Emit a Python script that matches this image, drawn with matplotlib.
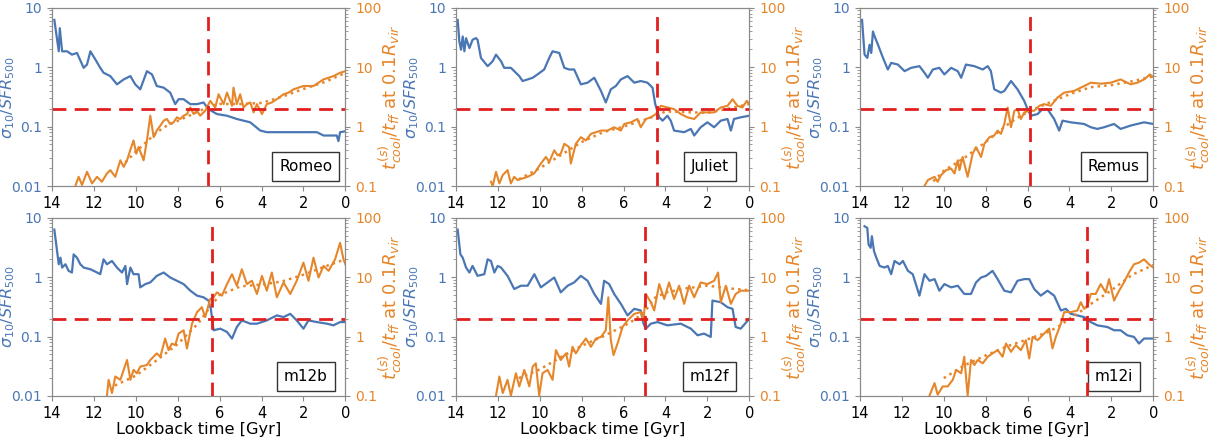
import numpy as np
import matplotlib.pyplot as plt
from matplotlib.ticker import FixedLocator, FixedFormatter, LogLocator, NullFormatter

BLUE = '#4a77b4'
ORANGE = '#e6862a'
RED = '#e0201f'
SPINE = '#8a8a8a'

# ---- Romeo ----
romeo_t_ratio = [13.89, 13.68, 13.63, 13.52, 13.28, 13.05, 12.81, 12.49, 12.33, 12.17, 11.93, 11.70,
                 11.54, 11.22, 10.90, 10.58, 10.26, 10.03, 9.79, 9.47, 9.23, 9.00, 8.67, 8.36, 8.12,
                 7.96, 7.72, 7.40, 7.08, 6.77, 6.53, 6.13, 5.65, 5.18, 4.86, 4.54, 4.06, 3.75, 2.95,
                 2.16, 1.36, 1.04, 0.41, 0.33, 0.25, 0.0]
romeo_ratio_dex = [0.795, 0.267, 0.656, 0.267, 0.267, 0.211, 0.239, -0.011, 0.045, 0.267, 0.128, -0.011,
                   -0.094, -0.150, -0.289, -0.206, -0.150, -0.289, -0.372, -0.067, -0.122, -0.317, -0.345,
                   -0.428, -0.622, -0.539, -0.539, -0.622, -0.622, -0.594, -0.706, -0.789, -0.817, -0.872,
                   -0.900, -0.928, -1.067, -1.094, -1.094, -1.094, -1.094, -1.150, -1.150, -1.244, -1.094,
                   -1.078]
romeo_t_tcool = [12.89, 12.73, 12.57, 12.33, 12.09, 11.85, 11.62, 11.38, 11.22, 10.98, 10.74, 10.58,
                 10.42, 10.27, 10.11, 9.98, 9.87, 9.63, 9.47, 9.31, 9.15, 9.00, 8.83, 8.67, 8.52, 8.36,
                 8.20, 8.04, 7.88, 7.72, 7.56, 7.40, 7.24, 7.08, 6.93, 6.69, 6.45, 6.21, 6.05, 5.81,
                 5.65, 5.41, 5.34, 5.18, 5.02, 4.86, 4.70, 4.54, 4.38, 4.22, 3.98, 3.75, 3.51, 3.27,
                 2.95, 2.71, 2.47, 2.00, 1.52, 1.28, 1.04, 0.57, 0.25, 0.0]
romeo_tcool_dex = [-1.0, -0.845, -0.983, -0.761, -0.956, -0.845, -0.928, -0.789, -0.733, -0.845, -0.567,
                   -0.678, -0.567, -0.400, -0.233, -0.456, -0.345, -0.567, -0.233, 0.183, -0.178, -0.067,
                   0.017, 0.100, 0.128, 0.044, 0.072, 0.156, 0.128, 0.183, 0.211, 0.322, 0.211, 0.267,
                   0.183, 0.267, 0.433, 0.322, 0.544, 0.378, 0.572, 0.350, 0.656, 0.378, 0.544, 0.322,
                   0.378, 0.406, 0.239, 0.378, 0.211, 0.378, 0.406, 0.461, 0.544, 0.572, 0.628, 0.683,
                   0.683, 0.739, 0.794, 0.850, 0.906, 0.933]
romeo_t_smooth = [10.5, 10.0, 9.5, 9.0, 8.5, 8.0, 7.5, 7.0, 6.5, 6.0, 5.0, 4.0, 3.0, 2.0, 1.0, 0.0]
romeo_smooth = [0.25, 0.38, 0.55, 0.8, 1.05, 1.25, 1.5, 1.8, 2.2, 2.4, 2.4, 2.5, 3.2, 4.3, 5.6, 8.0]
romeo_transition = 6.55

# ---- Juliet ----
juliet_t_ratio = [13.92, 13.84, 13.76, 13.68, 13.60, 13.52, 13.36, 13.21, 13.05, 12.97, 12.81, 12.49,
                  12.25, 12.09, 11.85, 11.70, 11.38, 11.22, 10.98, 10.82, 10.58, 10.34, 10.11, 9.79,
                  9.55, 9.39, 9.07, 8.83, 8.60, 8.36, 8.04, 7.72, 7.40, 7.08, 6.85, 6.61, 6.37, 6.13,
                  5.81, 5.49, 5.18, 4.86, 4.62, 4.49, 4.30, 4.14, 3.91, 3.75, 3.59, 3.11, 2.79, 2.63,
                  2.32, 2.00, 1.68, 1.36, 1.04, 0.88, 0.73, 0.41, 0.0]
juliet_ratio_dex = [0.795, 0.433, 0.294, 0.517, 0.267, 0.489, 0.322, 0.461, 0.489, 0.461, 0.156, 0.017,
                    0.100, 0.211, 0.100, -0.011, -0.011, -0.067, -0.150, -0.233, -0.206, -0.178, -0.122,
                    -0.039, 0.156, 0.267, 0.239, -0.011, -0.039, -0.039, -0.289, -0.261, -0.178, -0.400,
                    -0.594, -0.372, -0.317, -0.206, -0.150, -0.261, -0.233, -0.261, -0.345, -0.622,
                    -0.844, -0.900, -0.817, -0.900, -1.067, -1.094, -1.039, -1.150, -1.011, -0.928,
                    -1.011, -0.900, -0.872, -1.067, -0.872, -0.844, -0.817]
juliet_t_tcool = [12.33, 12.25, 12.09, 11.93, 11.77, 11.54, 11.38, 11.22, 11.06, 10.82, 10.58, 10.27,
                  10.11, 9.95, 9.71, 9.55, 9.31, 9.15, 9.00, 8.83, 8.60, 8.52, 8.28, 8.04, 7.80, 7.56,
                  7.32, 7.08, 6.77, 6.45, 6.13, 5.97, 5.65, 5.34, 5.18, 4.94, 4.70, 4.46, 4.22, 3.91,
                  3.59, 3.27, 2.95, 2.63, 2.32, 2.00, 1.68, 1.36, 1.04, 0.80, 0.57, 0.33, 0.12, 0.0]
juliet_tcool_dex = [-0.928, -1.0, -0.761, -0.956, -0.817, -0.733, -0.956, -0.845, -0.900, -0.872, -0.845,
                    -0.789, -0.706, -0.622, -0.511, -0.594, -0.400, -0.483, -0.456, -0.289, -0.345, -0.622,
                    -0.289, -0.178, -0.233, -0.122, -0.094, -0.067, -0.067, -0.011, -0.067, 0.044, 0.072,
                    0.128, -0.011, 0.128, 0.156, 0.211, 0.350, 0.322, 0.294, 0.211, 0.156, 0.128, 0.239,
                    0.239, 0.239, 0.322, 0.350, 0.461, 0.350, 0.322, 0.433, 0.378]
juliet_t_smooth = [11.0, 10.0, 9.0, 8.0, 7.0, 6.0, 5.0, 4.5, 4.0, 3.0, 2.0, 1.0, 0.0]
juliet_smooth = [0.13, 0.2, 0.33, 0.55, 0.8, 1.0, 1.3, 1.5, 1.8, 1.75, 1.7, 2.0, 2.4]
juliet_transition = 4.4

# ---- Remus ----
remus_t_ratio = [13.90, 13.78, 13.65, 13.54, 13.46, 13.38, 13.30, 13.14, 12.90, 12.67, 12.51, 12.19,
                 11.87, 11.56, 11.16, 10.92, 10.76, 10.52, 10.21, 9.97, 9.65, 9.33, 9.17, 8.94, 8.54,
                 8.14, 7.90, 7.75, 7.59, 7.27, 7.11, 6.79, 6.48, 6.16, 6.00, 5.84, 5.52, 5.29, 5.05,
                 4.73, 4.49, 4.33, 3.94, 3.30, 2.98, 2.67, 2.35, 1.87, 1.56, 1.08, 0.44, 0.0]
remus_ratio_dex = [0.795, 0.211, 0.156, 0.378, 0.239, 0.600, 0.517, 0.378, 0.156, -0.039, 0.072, 0.044,
                   -0.067, -0.011, 0.017, -0.094, -0.178, -0.039, -0.011, -0.122, -0.011, -0.067, -0.178,
                   0.044, 0.017, -0.039, 0.017, -0.067, -0.372, -0.428, -0.400, -0.233, -0.372, -0.567,
                   -0.706, -0.817, -0.789, -0.706, -0.706, -0.872, -1.067, -0.900, -0.928, -0.956, -1.011,
                   -1.039, -1.011, -0.956, -1.039, -0.983, -0.928, -0.956]
remus_t_tcool = [10.92, 10.76, 10.60, 10.44, 10.29, 10.13, 9.89, 9.65, 9.49, 9.33, 9.25, 9.10, 8.86,
                 8.62, 8.46, 8.22, 8.06, 7.82, 7.59, 7.43, 7.27, 7.11, 6.95, 6.79, 6.63, 6.48, 6.32,
                 6.16, 5.92, 5.68, 5.44, 5.21, 4.89, 4.57, 4.25, 3.78, 3.30, 2.98, 2.51, 2.03, 1.56,
                 1.08, 0.76, 0.44, 0.16, 0.0]
remus_tcool_dex = [-1.0, -0.900, -0.872, -0.845, -0.928, -0.817, -0.733, -0.706, -0.789, -0.567, -0.733,
                   -0.511, -0.845, -0.456, -0.345, -0.511, -0.289, -0.178, -0.150, -0.067, -0.122, 0.044,
                   0.322, -0.011, 0.267, 0.294, 0.128, 0.239, 0.267, 0.267, 0.350, 0.378, 0.350, 0.489,
                   0.572, 0.600, 0.683, 0.739, 0.722, 0.739, 0.794, 0.711, 0.739, 0.794, 0.878, 0.833]
remus_t_smooth = [10.5, 10.0, 9.0, 8.0, 7.0, 6.5, 6.0, 5.5, 5.0, 4.0, 3.0, 2.0, 1.0, 0.0]
remus_smooth = [0.12, 0.18, 0.3, 0.55, 1.05, 1.4, 1.75, 2.1, 2.5, 3.5, 4.6, 5.0, 5.8, 7.0]
remus_transition = 5.9

# ---- m12b ----
m12b_t_ratio = [13.89, 13.76, 13.68, 13.60, 13.52, 13.36, 13.21, 13.05, 12.97, 12.81, 12.65, 12.49,
                12.17, 11.85, 11.70, 11.54, 11.38, 11.14, 10.90, 10.66, 10.50, 10.42, 10.26, 10.11,
                9.87, 9.79, 9.55, 9.31, 9.00, 8.67, 8.36, 8.04, 7.72, 7.40, 7.08, 6.77, 6.53, 6.42,
                6.29, 5.97, 5.65, 5.41, 5.18, 4.94, 4.54, 4.22, 3.75, 3.27, 2.95, 2.63, 2.32, 2.00,
                1.76, 1.36, 0.88, 0.57, 0.25, 0.0]
m12b_ratio_dex = [0.800, 0.439, 0.217, 0.328, 0.161, 0.217, 0.106, 0.078, 0.383, 0.328, 0.217, 0.161,
                  0.133, 0.078, 0.050, 0.300, 0.217, 0.272, 0.161, 0.078, 0.189, -0.117, 0.161, 0.050,
                  0.050, -0.172, -0.117, -0.089, 0.022, 0.078, -0.006, -0.061, -0.117, -0.228, -0.311,
                  -0.339, -0.394, -0.533, -0.894, -0.867, -0.922, -1.033, -0.839, -0.728, -0.783, -0.783,
                  -0.728, -0.644, -0.672, -0.617, -0.728, -0.867, -0.728, -0.756, -0.783, -0.811, -0.756,
                  -0.756]
m12b_t_tcool = [11.38, 11.30, 11.14, 10.98, 10.74, 10.58, 10.42, 10.26, 10.11, 9.95, 9.79, 9.47, 9.31,
                9.00, 8.83, 8.60, 8.44, 8.28, 8.12, 7.96, 7.72, 7.56, 7.32, 7.08, 6.85, 6.69, 6.45,
                6.29, 6.13, 5.89, 5.65, 5.41, 5.18, 4.94, 4.70, 4.46, 4.22, 3.98, 3.75, 3.51, 3.27,
                2.95, 2.63, 2.32, 2.00, 1.76, 1.52, 1.28, 1.04, 0.80, 0.49, 0.25, 0.09, 0.0]
m12b_tcool_dex = [-0.994, -0.728, -0.950, -0.672, -0.728, -0.561, -0.394, -0.728, -0.561, -0.617, -0.506,
                  -0.478, -0.394, -0.283, -0.339, -0.033, -0.228, -0.117, -0.144, 0.050, 0.106, -0.200,
                  0.217, 0.411, 0.494, 0.328, 0.633, 0.661, 0.744, 0.689, 0.883, 1.050, 0.856, 1.133,
                  0.883, 0.939, 0.717, 1.022, 0.772, 1.078, 0.661, 0.911, 0.717, 0.939, 1.244, 0.939,
                  1.328, 0.994, 1.189, 1.106, 1.300, 1.578, 1.300, 1.217]
m12b_t_smooth = [11.0, 10.0, 9.0, 8.0, 7.0, 6.5, 6.0, 5.0, 4.0, 3.0, 2.0, 1.0, 0.0]
m12b_smooth = [0.15, 0.22, 0.4, 0.75, 1.7, 3.0, 5.0, 7.0, 7.5, 8.5, 11.0, 15.0, 20.0]
m12b_transition = 6.35

# ---- m12f ----
m12f_t_ratio = [13.92, 13.79, 13.68, 13.52, 13.36, 13.21, 12.97, 12.65, 12.49, 12.33, 12.17, 12.01,
                11.85, 11.54, 11.22, 10.90, 10.58, 10.26, 9.95, 9.63, 9.31, 9.00, 8.67, 8.36, 8.04,
                7.72, 7.40, 7.08, 6.93, 6.69, 6.45, 6.13, 5.81, 5.49, 5.18, 5.05, 4.94, 4.70, 4.38,
                3.91, 3.27, 2.79, 2.47, 2.16, 1.84, 1.76, 1.36, 1.04, 0.80, 0.65, 0.41, 0.0]
m12f_ratio_dex = [0.800, 0.383, 0.328, 0.161, 0.078, 0.189, 0.022, 0.050, 0.300, 0.272, 0.078, 0.189,
                  0.161, 0.022, -0.200, -0.144, -0.144, 0.050, -0.172, -0.089, -0.006, -0.256, -0.144,
                  -0.089, 0.022, -0.061, -0.283, -0.450, -0.061, -0.117, -0.283, -0.450, -0.644, -0.533,
                  -0.561, -0.783, -0.867, -0.783, -0.756, -0.811, -0.783, -0.867, -0.978, -0.950, -1.006,
                  -0.394, -0.422, -0.506, -0.533, -0.839, -0.867, -0.700]
m12f_t_tcool = [12.09, 11.93, 11.77, 11.54, 11.38, 11.14, 10.98, 10.74, 10.50, 10.34, 10.19, 10.03,
                9.87, 9.63, 9.39, 9.23, 9.00, 8.75, 8.60, 8.44, 8.28, 8.04, 7.80, 7.56, 7.32, 7.08,
                6.85, 6.73, 6.61, 6.48, 6.29, 6.05, 5.81, 5.49, 5.18, 5.05, 4.94, 4.70, 4.54, 4.30,
                4.06, 3.83, 3.59, 3.35, 3.11, 2.87, 2.63, 2.32, 2.00, 1.68, 1.49, 1.36, 1.12, 0.88,
                0.65, 0.41, 0.0]
m12f_tcool_dex = [-0.994, -0.672, -0.950, -0.728, -0.994, -0.617, -0.839, -0.561, -0.839, -0.506, -0.450,
                  -0.994, -0.617, -0.561, -0.728, -0.228, -0.394, -0.283, -0.506, -0.172, -0.283, -0.144,
                  -0.033, -0.172, -0.033, -0.006, 0.106, 0.661, -0.061, -0.311, -0.117, 0.161, 0.272,
                  0.383, 0.411, 0.272, 0.717, 0.578, 0.439, 0.883, 0.633, 0.911, 0.633, 0.856, 0.550,
                  0.856, 0.661, 0.911, 0.883, 0.939, 1.078, 0.578, 0.856, 0.550, 0.717, 0.772, 0.772]
m12f_t_smooth = [11.0, 10.0, 9.0, 8.0, 7.0, 6.0, 5.5, 5.0, 4.5, 4.0, 3.0, 2.0, 1.0, 0.0]
m12f_smooth = [0.2, 0.28, 0.45, 0.7, 1.0, 1.5, 1.9, 2.6, 4.5, 5.5, 6.5, 7.2, 6.5, 6.0]
m12f_transition = 5.0

# ---- m12i ----
m12i_t_ratio = [13.78, 13.65, 13.59, 13.49, 13.43, 13.33, 13.22, 13.06, 12.83, 12.67, 12.51, 12.35,
                12.11, 11.95, 11.71, 11.48, 11.16, 10.92, 10.68, 10.44, 10.21, 9.97, 9.65, 9.33, 9.02,
                8.70, 8.46, 8.22, 7.98, 7.67, 7.43, 7.11, 6.79, 6.48, 6.16, 5.92, 5.68, 5.37, 5.05,
                4.73, 4.41, 4.17, 3.94, 3.62, 3.30, 2.98, 2.67, 2.19, 1.87, 1.56, 1.24, 0.92, 0.68,
                0.44, 0.0]
m12i_ratio_dex = [0.856, 0.828, 0.550, 0.494, 0.689, 0.439, 0.328, 0.189, 0.161, 0.189, 0.050, 0.272,
                  0.217, 0.272, 0.106, 0.050, -0.311, 0.050, -0.061, -0.033, -0.228, -0.117, -0.172,
                  -0.144, -0.283, -0.283, -0.089, -0.006, 0.022, 0.106, -0.033, -0.228, -0.256, -0.061,
                  -0.033, -0.033, -0.200, -0.311, -0.228, -0.311, -0.561, -0.533, -0.617, -0.644, -0.672,
                  -0.756, -0.811, -0.839, -0.894, -0.894, -0.978, -1.006, -1.117, -1.033, -1.033]
m12i_t_tcool = [10.68, 10.44, 10.29, 10.05, 9.81, 9.57, 9.41, 9.17, 9.02, 8.86, 8.70, 8.54, 8.38, 8.14,
                7.90, 7.67, 7.43, 7.19, 7.03, 6.79, 6.56, 6.32, 6.08, 5.92, 5.76, 5.52, 5.21, 4.97,
                4.81, 4.65, 4.41, 4.25, 3.94, 3.62, 3.46, 3.30, 3.14, 2.98, 2.75, 2.51, 2.27, 2.11,
                1.87, 1.63, 1.40, 1.16, 0.92, 0.68, 0.44, 0.21, 0.0]
m12i_tcool_dex = [-0.994, -0.783, -0.978, -0.839, -0.839, -0.728, -0.561, -0.617, -0.339, -0.994, -0.394,
                  -0.478, -0.394, -0.450, -0.339, -0.283, -0.228, -0.339, -0.117, -0.256, -0.144, -0.228,
                  -0.061, -0.367, -0.006, -0.061, 0.050, 0.133, -0.200, -0.006, 0.217, 0.411, 0.411,
                  0.439, 0.578, 0.467, 0.522, 0.717, 0.717, 0.883, 0.744, 0.967, 0.606, 0.772, 0.911,
                  1.078, 1.217, 1.244, 1.300, 1.217, 1.161]
m12i_t_smooth = [10.0, 9.0, 8.0, 7.0, 6.0, 5.0, 4.5, 4.0, 3.5, 3.0, 2.0, 1.0, 0.0]
m12i_smooth = [0.2, 0.33, 0.48, 0.68, 0.9, 1.2, 1.5, 2.0, 2.6, 3.5, 6.0, 11.0, 16.0]
m12i_transition = 3.15

panels = [
    ('Romeo', romeo_t_ratio, romeo_ratio_dex, romeo_t_tcool, romeo_tcool_dex,
     romeo_t_smooth, romeo_smooth, romeo_transition),
    ('Juliet', juliet_t_ratio, juliet_ratio_dex, juliet_t_tcool, juliet_tcool_dex,
     juliet_t_smooth, juliet_smooth, juliet_transition),
    ('Remus', remus_t_ratio, remus_ratio_dex, remus_t_tcool, remus_tcool_dex,
     remus_t_smooth, remus_smooth, remus_transition),
    ('m12b', m12b_t_ratio, m12b_ratio_dex, m12b_t_tcool, m12b_tcool_dex,
     m12b_t_smooth, m12b_smooth, m12b_transition),
    ('m12f', m12f_t_ratio, m12f_ratio_dex, m12f_t_tcool, m12f_tcool_dex,
     m12f_t_smooth, m12f_smooth, m12f_transition),
    ('m12i', m12i_t_ratio, m12i_ratio_dex, m12i_t_tcool, m12i_tcool_dex,
     m12i_t_smooth, m12i_smooth, m12i_transition),
]

RATIO_CUT = 0.2

fig = plt.figure(figsize=(12.16, 4.38), dpi=100)
lefts = [0.0428, 0.375, 0.7072]
bottoms = [0.5753, 0.0959]
w, h = 0.2412, 0.407

for i, (name, t1, r_dex, t2, c_dex, ts, cs, t_tr) in enumerate(panels):
    row, col = divmod(i, 3)
    ax = fig.add_axes([lefts[col], bottoms[row], w, h])
    ax2 = ax.twinx()

    ax.plot(t1, 10 ** np.array(r_dex), color=BLUE, lw=1.6)
    ax2.plot(t2, 10 ** np.array(c_dex), color=ORANGE, lw=1.5)
    ax2.plot(ts, cs, color=ORANGE, lw=1.8, ls=':')

    # transition time and sigma/SFR threshold (0.2 on the left axis = 2 on the right)
    ax2.axvline(t_tr, color=RED, lw=2, ls=(0, (5, 3)))
    ax2.axhline(RATIO_CUT * 10, color=RED, lw=2, ls=(0, (5, 3)))

    ax.set_xlim(14, 0)
    ax.set_xticks([14, 12, 10, 8, 6, 4, 2, 0])
    ax.set_yscale('log')
    ax.set_ylim(0.01, 10)
    ax2.set_yscale('log')
    ax2.set_ylim(0.1, 100)

    ax.yaxis.set_major_locator(FixedLocator([0.01, 0.1, 1, 10]))
    ax.yaxis.set_major_formatter(FixedFormatter(['0.01', '0.1', '1', '10']))
    ax2.yaxis.set_major_locator(FixedLocator([0.1, 1, 10, 100]))
    ax2.yaxis.set_major_formatter(FixedFormatter(['0.1', '1', '10', '100']))
    for a in (ax, ax2):
        a.yaxis.set_minor_locator(LogLocator(base=10, subs=np.arange(2, 10)))
        a.yaxis.set_minor_formatter(NullFormatter())

    ax.tick_params(axis='x', labelsize=10.5, colors='black')
    ax.tick_params(axis='y', labelsize=10, labelcolor=BLUE)
    ax2.tick_params(axis='y', labelsize=10, labelcolor=ORANGE)
    for a in (ax, ax2):
        a.tick_params(which='both', color=SPINE)
        for s in a.spines.values():
            s.set_color(SPINE)

    ax.set_ylabel(r'$\sigma_{10}/SFR_{500}$', color=BLUE, fontsize=11.5)
    ax.yaxis.set_label_coords(-0.118, 0.5)
    ax2.set_ylabel(r'$t^{(s)}_{cool}/t_{ff}$ at $0.1R_{vir}$', color=ORANGE, fontsize=13)
    ax2.yaxis.set_label_coords(1.105, 0.5)
    if row == 1:
        ax.set_xlabel('Lookback time [Gyr]', fontsize=11.7, labelpad=1)

    ax.text(0.865, 0.11, name, transform=ax.transAxes, ha='center', va='center', fontsize=11,
            bbox=dict(boxstyle='square,pad=0.45', fc='white', ec='#333333', lw=1))

fig.savefig('out.png', dpi=100)
